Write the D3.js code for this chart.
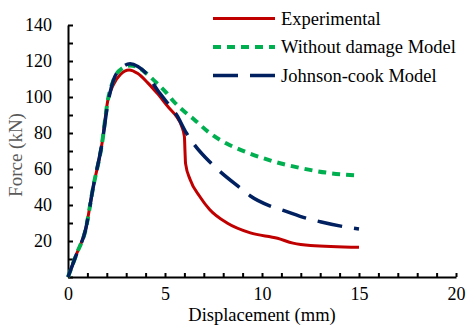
<!DOCTYPE html>
<html>
<head>
<meta charset="utf-8">
<script src="https://cdn.jsdelivr.net/npm/d3@7"></script>
<style>
  body { margin: 0; background: #fff; }
  svg text { font-family: "Liberation Serif", "Times New Roman", Times, "DejaVu Serif", "Noto Serif", serif; }
</style>
</head>
<body>
<div id="chart"></div>
<script>
// displacement (mm) / force (kN)
const expDisp = [0, 0.45, 0.9, 1.3, 1.75, 2.05, 2.35, 2.7, 3.15, 3.6, 4.1, 4.6, 5.2, 5.6, 5.85, 6.0, 6.03, 6.06, 6.3, 6.8, 7.3, 8.2, 9.4, 10.8, 11.6, 12.5, 15];
const expForce = [0, 13, 26, 50, 74, 98, 107, 112.5, 115, 113, 108, 102, 94, 89, 84, 78, 70, 63, 54, 44.6, 37.5, 30, 24.5, 21.5, 18.8, 17.5, 16.5];

const nodDisp = [0, 0.45, 0.9, 1.3, 1.75, 2.05, 2.35, 2.8, 3.2, 3.6, 4.05, 4.6, 5.1, 5.45, 6.1, 6.5, 7.3, 8.2, 8.7, 9.4, 10.5, 12, 13.3, 15];
const nodForce = [0, 13, 26, 50, 74, 98, 109.5, 116, 117.5, 116.5, 113, 107.5, 102, 97.5, 91, 87.5, 80, 74, 71.5, 68.5, 64.5, 60.5, 58, 56.3];

const jcDisp = [0, 0.45, 0.9, 1.3, 1.75, 2.08, 2.35, 2.8, 3.2, 3.6, 4.0, 4.6, 5.25, 5.6, 6.1, 6.55, 7.3, 7.9, 8.9, 9.4, 10.4, 11.1, 12.3, 13, 14.2, 15];
const jcForce = [0, 13, 26, 50, 74, 98, 109.5, 116.5, 118.5, 117, 113.5, 104, 95, 90, 80, 73, 64, 58, 49.3, 45, 39.5, 37, 32.6, 30.7, 28, 26.7];

const seriesNames = ["Experimental", "Without damage Model", "Johnson-cook Model"];
const xTicks = d3.range(0, 21, 1);
const yTicks = d3.range(0, 141, 10);

const W = 468, H = 325;
const serif = "'Liberation Serif', 'Times New Roman', Times, 'DejaVu Serif', 'Noto Serif', serif";
const svg = d3.select("#chart").append("svg").attr("width", W).attr("height", H);

const x = d3.scaleLinear().domain([0, 20]).range([68, 456]);
const y = d3.scaleLinear().domain([0, 140]).range([277, 25]);

const styles = [
  {color: "#C00000", width: 3, dash: null},
  {color: "#00B050", width: 4, dash: "8,6"},
  {color: "#002060", width: 3.5, dash: "25,12"}
];

const series = [
  expDisp.map((d, i) => [d, expForce[i]]),
  nodDisp.map((d, i) => [d, nodForce[i]]),
  jcDisp.map((d, i) => [d, jcForce[i]])
];

// axes
const xAxis = svg.append("g")
  .attr("transform", `translate(0,${y(0)})`)
  .call(d3.axisBottom(x).tickValues(xTicks).tickSizeInner(-4).tickSizeOuter(0).tickPadding(10)
    .tickFormat(d => d % 5 === 0 ? d : ""));

const yAxis = svg.append("g")
  .attr("transform", `translate(${x(0)},0)`)
  .call(d3.axisLeft(y).tickValues(yTicks).tickSizeInner(-5).tickSizeOuter(0).tickPadding(16)
    .tickFormat(d => d % 20 === 0 && d > 0 ? d : ""));

[xAxis, yAxis].forEach(a => {
  a.attr("font-family", serif);
  a.select(".domain").attr("stroke", "#000").attr("stroke-width", 2);
  a.selectAll(".tick line").attr("stroke", "#000").attr("stroke-width", 2);
  a.selectAll(".tick text").attr("fill", "#000").style("font-size", "18px");
});

// lines
const line = d3.line().x(d => x(d[0])).y(d => y(d[1])).curve(d3.curveMonotoneX);

series.forEach((s, i) => {
  svg.append("path")
    .datum(s)
    .attr("fill", "none")
    .attr("stroke", styles[i].color)
    .attr("stroke-width", styles[i].width)
    .attr("stroke-dasharray", styles[i].dash)
    .attr("d", line);
});

// axis titles
svg.append("text")
  .attr("x", 262).attr("y", 321)
  .attr("text-anchor", "middle")
  .style("font-size", "18.5px")
  .attr("fill", "#000")
  .text("Displacement (mm)");

svg.append("text")
  .attr("transform", "translate(22,155) rotate(-90)")
  .attr("text-anchor", "middle")
  .style("font-size", "19px")
  .attr("fill", "#595959")
  .text("Force (kN)");

// legend
const legend = svg.append("g");
seriesNames.forEach((name, i) => {
  const ly = 18.5 + i * 28.5;
  legend.append("line")
    .attr("x1", 213).attr("x2", 275).attr("y1", ly).attr("y2", ly)
    .attr("stroke", styles[i].color)
    .attr("stroke-width", styles[i].width)
    .attr("stroke-dasharray", styles[i].dash);
  legend.append("text")
    .attr("x", 281).attr("y", ly)
    .attr("dy", "0.35em")
    .style("font-size", "18.5px")
    .attr("fill", "#000")
    .text(name);
});
</script>
</body>
</html>
